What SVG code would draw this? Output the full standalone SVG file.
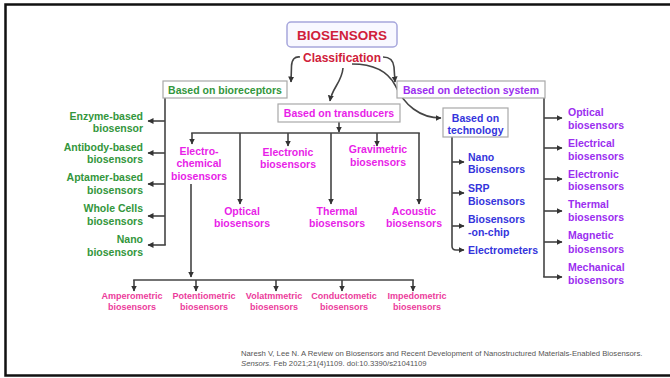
<svg xmlns="http://www.w3.org/2000/svg" width="670" height="378" viewBox="0 0 670 378">
<defs>
<marker id="ah" markerUnits="userSpaceOnUse" markerWidth="7" markerHeight="7" refX="5.5" refY="3" orient="auto">
<path d="M0,0 L6,3 L0,6 z" fill="#333"/>
</marker>
<style>
text{font-family:"Liberation Sans",Arial,sans-serif;font-weight:bold;font-size:10.5px}
.g{fill:#33963c}
.m{fill:#e81ee8}
.p{fill:#ec3c9c;font-size:9px}
.v{fill:#9b2ef0}
.b{fill:#3434dc}
.r{fill:#d0203a}
.box{fill:#fff;stroke:#a8a8a8;stroke-width:1.2}
.c line,.c path{stroke:#444;stroke-width:1.6;fill:none}
.a{marker-end:url(#ah)}
.cite{font-weight:normal;font-size:7.7px;fill:#555}
</style>
</defs>
<rect x="0" y="0" width="670" height="378" fill="#fff"/>
<rect x="5.5" y="4.5" width="700" height="371" fill="none" stroke="#111" stroke-width="2.5"/>

<g id="connectors" class="c">
<path class="a" d="M300,57 Q292,56 291.5,66 L291,82"/>
<path class="a" d="M343,68 C342,82 332,88 330,101"/>
<path class="a" d="M383,57 Q393,57 394,67 L395,82"/>
<path class="a" d="M352,64 C375,64 388,72 395,85 C404,105 420,118 441,118"/>
<!-- bioreceptors -->
<path d="M165,98 L165,245"/>
<line class="a" x1="165" y1="121" x2="148" y2="121"/>
<line class="a" x1="165" y1="153" x2="148" y2="153"/>
<line class="a" x1="165" y1="184" x2="148" y2="184"/>
<line class="a" x1="165" y1="216" x2="148" y2="216"/>
<line class="a" x1="165.8" y1="245" x2="148" y2="245"/>
<!-- transducers -->
<line class="a" x1="339" y1="122" x2="339" y2="132"/>
<line x1="191.2" y1="133" x2="419.8" y2="133"/>
<line class="a" x1="192" y1="133" x2="192" y2="144"/>
<line class="a" x1="240" y1="133" x2="240" y2="204"/>
<line class="a" x1="288" y1="133" x2="288" y2="146"/>
<line class="a" x1="331" y1="133" x2="331" y2="204"/>
<line class="a" x1="377" y1="133" x2="377" y2="146"/>
<line class="a" x1="419" y1="133" x2="419" y2="204"/>
<!-- electrochemical -->
<line class="a" x1="191" y1="184" x2="191" y2="277"/>
<line x1="133.2" y1="280" x2="413.8" y2="280"/>
<line class="a" x1="134" y1="280" x2="134" y2="291"/>
<line class="a" x1="196" y1="280" x2="196" y2="291"/>
<line class="a" x1="276" y1="280" x2="276" y2="291"/>
<line class="a" x1="342" y1="280" x2="342" y2="291"/>
<line class="a" x1="413" y1="280" x2="413" y2="291"/>
<!-- detection -->
<path d="M544,98 L544,277"/>
<line class="a" x1="544" y1="118" x2="562" y2="118"/>
<line class="a" x1="544" y1="148" x2="562" y2="148"/>
<line class="a" x1="544" y1="179" x2="562" y2="179"/>
<line class="a" x1="544" y1="211" x2="562" y2="211"/>
<line class="a" x1="544" y1="242" x2="562" y2="242"/>
<line class="a" x1="543.2" y1="277" x2="562" y2="277"/>
<!-- technology -->
<path class="a" d="M452,137 L452,246 Q452,250 456,250 L464,250"/>
<line class="a" x1="452" y1="162" x2="464" y2="162"/>
<line class="a" x1="452" y1="193" x2="464" y2="193"/>
<line class="a" x1="452" y1="226" x2="464" y2="226"/>
</g>

<g id="biosensors">
<rect x="287" y="22" width="110" height="25" rx="4" fill="#f8f8ff" stroke="#a6a6dc" stroke-width="1.5"/>
<text class="r" x="342" y="39.5" text-anchor="middle" style="font-size:13.5px">BIOSENSORS</text>
</g>
<g id="classification">
<text class="r" x="342" y="62" text-anchor="middle" style="font-size:12px">Classification</text>
</g>

<g id="bioreceptors">
<rect class="box" x="163" y="81" width="124" height="17"/>
<text class="g" x="225" y="93.5" text-anchor="middle">Based on bioreceptors</text>
</g>
<g id="detection">
<rect class="box" x="397" y="81" width="148" height="17"/>
<text class="v" x="471" y="93.5" text-anchor="middle">Based on detection system</text>
</g>
<g id="transducers">
<rect class="box" x="278" y="104" width="122" height="18"/>
<text class="m" x="339" y="117" text-anchor="middle">Based on transducers</text>
</g>
<g id="technology">
<rect class="box" x="443" y="108" width="65" height="29"/>
<text class="b" x="475.5" y="121.5" text-anchor="middle">Based on</text>
<text class="b" x="475.5" y="134" text-anchor="middle">technology</text>
</g>

<g id="enzyme">
<text class="g" x="143" y="120" text-anchor="end">Enzyme-based</text>
<text class="g" x="143" y="132" text-anchor="end">biosensor</text>
</g>
<g id="antibody">
<text class="g" x="143" y="151" text-anchor="end">Antibody-based</text>
<text class="g" x="143" y="163" text-anchor="end">biosensors</text>
</g>
<g id="aptamer">
<text class="g" x="143" y="181" text-anchor="end">Aptamer-based</text>
<text class="g" x="143" y="194" text-anchor="end">biosensors</text>
</g>
<g id="wholecells">
<text class="g" x="143" y="212" text-anchor="end">Whole Cells</text>
<text class="g" x="143" y="225" text-anchor="end">biosensors</text>
</g>
<g id="nano">
<text class="g" x="143" y="243" text-anchor="end">Nano</text>
<text class="g" x="143" y="256" text-anchor="end">biosensors</text>
</g>

<g id="electrochemical">
<text class="m" x="199" y="155" text-anchor="middle">Electro-</text>
<text class="m" x="199" y="167" text-anchor="middle">chemical</text>
<text class="m" x="199" y="180" text-anchor="middle">biosensors</text>
</g>
<g id="electronic-t">
<text class="m" x="288" y="156" text-anchor="middle">Electronic</text>
<text class="m" x="288" y="168" text-anchor="middle">biosensors</text>
</g>
<g id="gravimetric">
<text class="m" x="378" y="153" text-anchor="middle">Gravimetric</text>
<text class="m" x="378" y="166" text-anchor="middle">biosensors</text>
</g>
<g id="optical-t">
<text class="m" x="242" y="215" text-anchor="middle">Optical</text>
<text class="m" x="242" y="227" text-anchor="middle">biosensors</text>
</g>
<g id="thermal-t">
<text class="m" x="337" y="215" text-anchor="middle">Thermal</text>
<text class="m" x="337" y="227" text-anchor="middle">biosensors</text>
</g>
<g id="acoustic">
<text class="m" x="414" y="215" text-anchor="middle">Acoustic</text>
<text class="m" x="414" y="227" text-anchor="middle">biosensors</text>
</g>

<g id="amperometric">
<text class="p" x="132" y="299" text-anchor="middle">Amperometric</text>
<text class="p" x="132" y="310" text-anchor="middle">biosensors</text>
</g>
<g id="potentiometric">
<text class="p" x="204" y="299" text-anchor="middle">Potentiometric</text>
<text class="p" x="204" y="310" text-anchor="middle">biosensors</text>
</g>
<g id="volatmmetric">
<text class="p" x="274" y="299" text-anchor="middle">Volatmmetric</text>
<text class="p" x="274" y="310" text-anchor="middle">biosensors</text>
</g>
<g id="conductometic">
<text class="p" x="344" y="299" text-anchor="middle">Conductometic</text>
<text class="p" x="344" y="310" text-anchor="middle">biosensors</text>
</g>
<g id="impedometric">
<text class="p" x="417" y="299" text-anchor="middle">Impedometric</text>
<text class="p" x="417" y="310" text-anchor="middle">biosensors</text>
</g>

<g id="nano-tech">
<text class="b" x="468" y="161">Nano</text>
<text class="b" x="468" y="173">Biosensors</text>
</g>
<g id="srp">
<text class="b" x="468" y="192">SRP</text>
<text class="b" x="468" y="205">Biosensors</text>
</g>
<g id="onchip">
<text class="b" x="468" y="223">Biosensors</text>
<text class="b" x="468" y="236">-on-chip</text>
</g>
<g id="electrometers">
<text class="b" x="468" y="254">Electrometers</text>
</g>

<g id="optical-d">
<text class="v" x="568" y="116">Optical</text>
<text class="v" x="568" y="129">biosensors</text>
</g>
<g id="electrical-d">
<text class="v" x="568" y="147">Electrical</text>
<text class="v" x="568" y="160">biosensors</text>
</g>
<g id="electronic-d">
<text class="v" x="568" y="178">Electronic</text>
<text class="v" x="568" y="190">biosensors</text>
</g>
<g id="thermal-d">
<text class="v" x="568" y="208">Thermal</text>
<text class="v" x="568" y="221">biosensors</text>
</g>
<g id="magnetic-d">
<text class="v" x="568" y="239">Magnetic</text>
<text class="v" x="568" y="253">biosensors</text>
</g>
<g id="mechanical-d">
<text class="v" x="568" y="271">Mechanical</text>
<text class="v" x="568" y="284">biosensors</text>
</g>

<g id="citation">
<text class="cite" x="241" y="356">Naresh V, Lee N. A Review on Biosensors and Recent Development of Nanostructured Materials-Enabled Biosensors.</text>
<text class="cite" x="241" y="366"><tspan font-style="italic">Sensors.</tspan> Feb 2021;21(4)1109. doi:10.3390/s21041109</text>
</g>
</svg>
